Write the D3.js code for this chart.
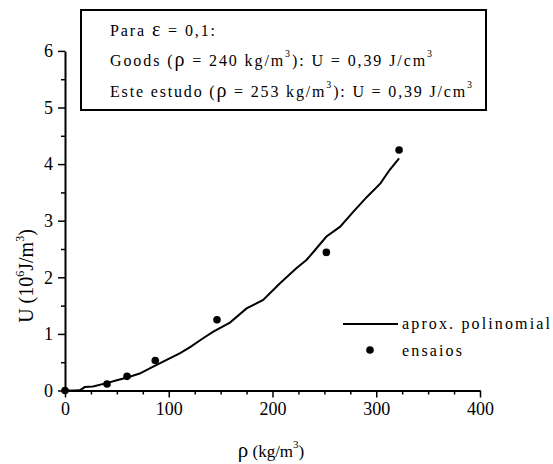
<!DOCTYPE html>
<html><head><meta charset="utf-8">
<script src="https://cdn.jsdelivr.net/npm/d3@7"></script>
<style>body{margin:0;background:#fff}svg{display:block}</style>
</head><body>
<script>
// Data
const curveX = [0,10,15,19,27,40,50,60,72,85,98,111,121,132,143,159,175,191,207,223,233,240,252,265,278,291,304,313,322];
const curveY = [0,0,0.01,0.06,0.07,0.13,0.18,0.23,0.30,0.42,0.54,0.66,0.77,0.91,1.04,1.20,1.45,1.60,1.89,2.16,2.31,2.46,2.72,2.89,3.16,3.42,3.66,3.90,4.10];
const pointX = [0,40.5,59.8,87,146.5,251.9,322];
const pointY = [0,0.115,0.25,0.53,1.25,2.44,4.25];
const xTicks = [0,100,200,300,400];
const yTicks = [0,1,2,3,4,5,6];
const seriesNames = ["aprox. polinomial","ensaios"];

const FF="'Liberation Serif', 'Times New Roman', Tinos";
const W=553,H=464;
const svg=d3.select("body").append("svg").attr("width",W).attr("height",H);
const x=d3.scaleLinear().domain([0,400]).range([65,480]);
const y=d3.scaleLinear().domain([0,6]).range([390.5,50.9]);

// axes
const xAxis=d3.axisBottom(x).tickValues(xTicks).tickSize(7).tickSizeOuter(0).tickPadding(5).tickFormat(d3.format("d"));
const gx=svg.append("g").attr("transform",`translate(0,${y(0)})`).call(xAxis);
gx.select(".domain").attr("stroke-width",2).attr("stroke","#000");
gx.selectAll(".tick line").attr("stroke-width",1.5).attr("stroke","#000");
gx.selectAll(".tick text").style("font-family",FF).attr("font-size",18).attr("fill","#000");
const xMinor=d3.axisBottom(x).tickValues(d3.range(25,400,25).filter(v=>v%100)).tickSize(4).tickFormat("");
const gxm=svg.append("g").attr("transform",`translate(0,${y(0)})`).call(xMinor);
gxm.select(".domain").remove();
gxm.selectAll(".tick line").attr("stroke-width",1.5);

const yAxis=d3.axisLeft(y).tickValues(yTicks).tickSize(7).tickSizeOuter(0).tickPadding(5).tickFormat(d3.format("d"));
const gy=svg.append("g").attr("transform",`translate(${x(0)},0)`).call(yAxis);
gy.select(".domain").attr("stroke-width",2).attr("stroke","#000");
gy.selectAll(".tick line").attr("stroke-width",1.5).attr("stroke","#000");
gy.selectAll(".tick text").style("font-family",FF).attr("font-size",18).attr("fill","#000");
const yMinor=d3.axisLeft(y).tickValues([0.5,1.5,2.5,3.5,4.5,5.5]).tickSize(4).tickFormat("");
const gym=svg.append("g").attr("transform",`translate(${x(0)},0)`).call(yMinor);
gym.select(".domain").remove();
gym.selectAll(".tick line").attr("stroke-width",1.5);

// curve
const line=d3.line().x(d=>x(d[0])).y(d=>y(d[1]));
svg.append("path").datum(curveX.map((v,i)=>[v,curveY[i]])).attr("d",line)
  .attr("fill","none").attr("stroke","#000").attr("stroke-width",2);
// points
svg.selectAll("circle.pt").data(pointX.map((v,i)=>[v,pointY[i]])).enter().append("circle")
  .attr("class","pt").attr("cx",d=>x(d[0])).attr("cy",d=>y(d[1])).attr("r",3.8).attr("fill","#000");

function txt(){return svg.append("text").style("font-family",FF).attr("fill","#000");}
// legend
svg.append("line").attr("x1",343).attr("x2",398).attr("y1",324).attr("y2",324).attr("stroke","#000").attr("stroke-width",2);
txt().attr("x",402).attr("y",329).attr("font-size",16).attr("textLength",148).attr("lengthAdjust","spacing").text(seriesNames[0]);
svg.append("circle").attr("cx",370).attr("cy",350).attr("r",3.8).attr("fill","#000");
txt().attr("x",402).attr("y",356).attr("font-size",16).attr("textLength",60).attr("lengthAdjust","spacing").text(seriesNames[1]);

// info box
svg.append("rect").attr("x",81).attr("y",10).attr("width",405).attr("height",100).attr("fill","#fff").attr("stroke","#000").attr("stroke-width",2);
const t1=txt().attr("x",110).attr("y",36).attr("font-size",16).attr("textLength",105).attr("lengthAdjust","spacing");
t1.append("tspan").text("Para ");
t1.append("tspan").attr("font-size",20).text("ε");
t1.append("tspan").text(" = 0,1:");
function infoLine(yy,a,rho,len){
  const t=txt().attr("x",110).attr("y",yy).attr("font-size",16).attr("textLength",len).attr("lengthAdjust","spacing");
  t.append("tspan").text(a+" (");
  t.append("tspan").attr("font-size",20).text("ρ");
  t.append("tspan").text(" = "+rho+" kg/m");
  t.append("tspan").attr("font-size",10).attr("dy",-9).text("3");
  t.append("tspan").attr("dy",9).text("): U = 0,39 J/cm");
  t.append("tspan").attr("font-size",10).attr("dy",-9).text("3");
  return t;
}
infoLine(66,"Goods","240",322);
infoLine(97,"Este estudo","253",362);

// axis titles
const xl=txt().attr("x",271).attr("y",457).attr("text-anchor","middle").attr("font-size",17);
xl.append("tspan").attr("font-size",21).text("ρ");
xl.append("tspan").text(" (kg/m");
xl.append("tspan").attr("font-size",11).attr("dy",-9).text("3");
xl.append("tspan").attr("dy",9).text(")");

const yl=txt().attr("transform","translate(33,276) rotate(-90)").attr("text-anchor","middle").attr("font-size",20);
yl.append("tspan").text("U (10");
yl.append("tspan").attr("font-size",12).attr("dy",-9).text("6");
yl.append("tspan").attr("dy",9).text("J/m");
yl.append("tspan").attr("font-size",12).attr("dy",-9).text("3");
yl.append("tspan").attr("dy",9).text(")");
</script>
</body></html>
